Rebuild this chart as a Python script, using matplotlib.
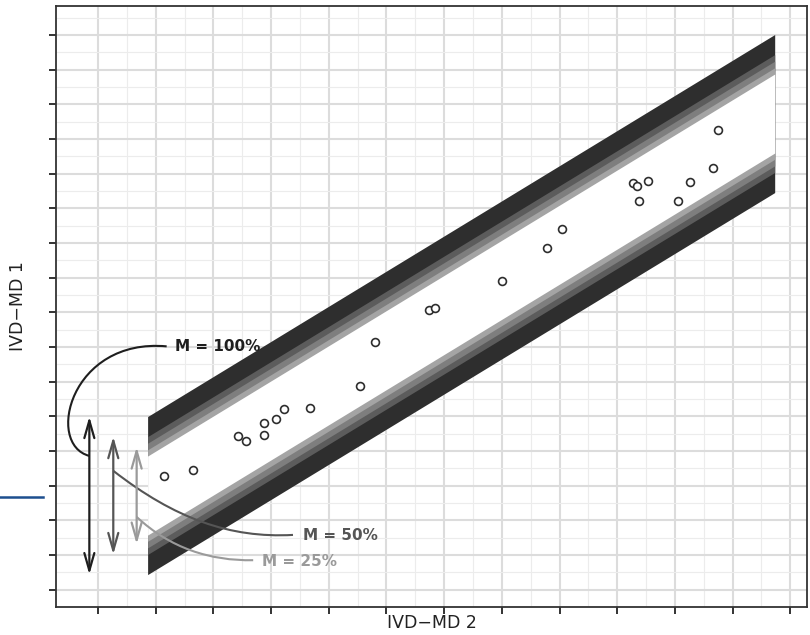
import matplotlib.pyplot as plt
import numpy as np
from matplotlib.lines import Line2D
from matplotlib.patches import PathPatch
from matplotlib.path import Path

# ------------------- Data ---------------------
# IVD-MD 2 (x) and IVD-MD 1 (y) values of the clinical samples
x_vals = [2.15, 2.65, 3.43, 3.56, 3.87, 3.88, 4.09, 4.22, 4.67, 5.54, 5.81, 6.74,
          6.85, 8.00, 8.79, 9.04, 10.27, 10.35, 10.53, 10.38, 11.06, 11.27, 11.66, 11.74]
y_vals = [4.29, 4.46, 5.44, 5.30, 5.81, 5.46, 5.93, 6.21, 6.23, 6.87, 8.16, 9.08,
          9.13, 9.91, 10.87, 11.41, 12.74, 12.64, 12.80, 12.22, 12.22, 12.76, 13.17, 14.27]

# prediction band: centre line y = a + b * x, drawn from x_start to x_end
band_a, band_b = 1.829, 1.014
band_x = [1.86, 12.73]

# half widths of the band layers (outer -> inner) and their colours
band_half = [2.28, 1.70, 1.51, 1.32, 1.14]
band_cols = ['#2e2e2e', '#5c5c5c', '#7e7e7e', '#a4a4a4', 'white']

# arrows for M = 100 %, 50 %, 25 %
arrow_labels = ['M = 100%', 'M = 50%', 'M = 25%']
arrow_half = [2.28, 1.70, 1.40]
arrow_x = [0.85, 1.265, 1.67]
arrow_cols = ['#1e1e1e', '#555555', '#9a9a9a']
text_pos = [(2.33, 8.06), (4.56, 2.62), (3.84, 1.85)]

# bezier curves from arrow to label (4 control points each)
curves = [
    [(2.19, 8.02), (0.52, 8.27), (0.08, 5.19), (0.85, 4.86)],
    [(1.265, 4.43), (2.33, 3.05), (3.29, 2.48), (4.38, 2.58)],
    [(1.67, 3.10), (2.25, 2.20), (2.94, 1.83), (3.69, 1.85)],
]

x_ticks = np.arange(1, 14)
y_ticks = np.arange(1, 18)


def centre(x):
    return band_a + band_b * np.asarray(x)


# ------------------- Plotting ---------------------
fig = plt.figure(figsize=(8.1, 6.35), dpi=100)
ax = fig.add_axes([56 / 810, 1 - 607 / 635, 751 / 810, 601 / 635])

ax.set_xlim(0.272, 13.29)
ax.set_ylim(0.715, 17.84)

ax.set_xticks(x_ticks)
ax.set_yticks(y_ticks)
ax.set_xticks(x_ticks[:-1] + 0.5, minor=True)
ax.set_yticks(np.append(y_ticks - 0.5, y_ticks[-1] + 0.5), minor=True)
ax.set_xticklabels([])
ax.set_yticklabels([])
ax.tick_params(which='major', length=5, width=1.4, color='#333333')
ax.tick_params(which='minor', length=0)
ax.grid(which='major', color='#dcdcdc', lw=1.5)
ax.grid(which='minor', color='#ececec', lw=0.8)
ax.set_axisbelow(True)
for s in ax.spines.values():
    s.set_color('#333333')
    s.set_linewidth(1.3)

# bands, outer layer first, white interior last
bx = np.array(band_x)
for hw, col in zip(band_half, band_cols):
    ax.fill_between(bx, centre(bx) - hw, centre(bx) + hw, color=col, lw=0, zorder=2)

ax.scatter(x_vals, y_vals, s=32, facecolor='white', edgecolor='#2e2e2e', lw=1.2, zorder=4)

# arrows, curves and labels
c0 = centre(band_x[0])
for lab, hw, ax_x, col, pos, pts in zip(arrow_labels, arrow_half, arrow_x, arrow_cols, text_pos, curves):
    ax.annotate('', xy=(ax_x, c0 + hw), xytext=(ax_x, c0 - hw),
                arrowprops=dict(arrowstyle='<->, head_length=0.7, head_width=0.2',
                                color=col, lw=1.6, mutation_scale=18,
                                shrinkA=0, shrinkB=0), zorder=5)
    path = Path(pts, [Path.MOVETO, Path.CURVE4, Path.CURVE4, Path.CURVE4])
    ax.add_patch(PathPatch(path, fill=False, edgecolor=col, lw=1.5, zorder=5, clip_on=False))
    ax.text(pos[0], pos[1], lab, color=col, fontsize=11, fontweight='bold',
            ha='left', va='center_baseline', zorder=6)

ax.set_xlabel('IVD\u2212MD 2', fontsize=12.5, color='#222222')
ax.set_ylabel('IVD\u2212MD 1', fontsize=12.5, color='#222222')
ax.xaxis.set_label_coords(0.5, -0.012)
ax.yaxis.set_label_coords(-0.038, 0.5)

# stray blue rule at the left page margin
fig.add_artist(Line2D([0, 43 / 810], [1 - 497 / 635] * 2, color='#1d4f8f', lw=1.8))

plt.savefig('out.png', dpi=100)
